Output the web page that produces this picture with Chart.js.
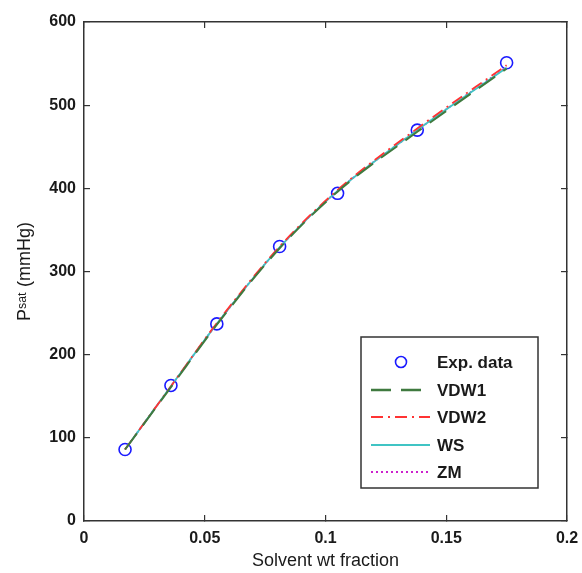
<!DOCTYPE html>
<html>
<head>
<meta charset="utf-8">
<script src="https://cdn.jsdelivr.net/npm/chart.js@4"></script>
<style>
html,body{margin:0;padding:0;background:#fff;}
#wrap{width:582px;height:573px;}
</style>
</head>
<body>
<div id="wrap"><canvas id="c" width="582" height="573"></canvas></div>
<script>
// ---- data ----
const solventFraction = [0.017, 0.036, 0.055, 0.081, 0.105, 0.138, 0.175];
const expData = [86, 163, 237, 330, 394, 470, 551];
const vdw1 = [86, 161, 236, 328, 396, 468, 544];
const vdw2 = [86, 162, 238, 330, 398, 472, 548];
const ws   = [86, 162, 237, 329, 397, 470, 545];
const zm   = [86, 162, 237, 329, 397, 470, 546];
const xTicks = [0, 0.05, 0.1, 0.15, 0.2];
const yTicks = [0, 100, 200, 300, 400, 500, 600];
const seriesNames = ['Exp. data', 'VDW1', 'VDW2', 'WS', 'ZM'];

const pts = arr => solventFraction.map((x, i) => ({x: x, y: arr[i]}));

const FONT = "'Liberation Sans', Arial, sans-serif";
const AXC = '#333';
const TXT = '#1a1a1a';

const lineDs = (label, data, color, dash, width) => ({
  type: 'line', label: label, data: pts(data),
  borderColor: color, borderDash: dash, borderWidth: width,
  pointRadius: 0, fill: false, cubicInterpolationMode: 'monotone'
});

const datasets = [
  lineDs(seriesNames[1], vdw1, '#3f7a3f', [20, 10], 2),
  lineDs(seriesNames[2], vdw2, '#ff3333', [12, 5, 2, 5], 1.8),
  lineDs(seriesNames[3], ws, '#40c4c4', [], 1.8),
  lineDs(seriesNames[4], zm, '#cc22cc', [2, 3], 1.8),
  {
    type: 'scatter', label: seriesNames[0], data: pts(expData),
    borderColor: '#1a1aff', backgroundColor: 'rgba(0,0,0,0)', borderWidth: 1.6,
    pointRadius: 6, pointStyle: 'circle', showLine: false
  }
];

const legendPlugin = {
  id: 'boxLegend',
  afterDraw(chart) {
    const ctx = chart.ctx;
    const bx = 361, by = 337, bw = 177, bh = 151;
    ctx.save();
    ctx.fillStyle = '#fff';
    ctx.fillRect(bx, by, bw, bh);
    ctx.strokeStyle = AXC;
    ctx.lineWidth = 1.5;
    ctx.strokeRect(bx, by, bw, bh);
    const order = [4, 0, 1, 2, 3];
    const rowY = [362, 390, 417, 445, 472];
    ctx.font = 'bold 17px ' + FONT;
    ctx.textBaseline = 'middle';
    order.forEach((di, r) => {
      const ds = chart.data.datasets[di];
      const y = rowY[r];
      ctx.save();
      if (ds.type === 'scatter') {
        ctx.beginPath();
        ctx.arc(401, y, 5.5, 0, Math.PI * 2);
        ctx.strokeStyle = ds.borderColor;
        ctx.lineWidth = ds.borderWidth;
        ctx.stroke();
      } else {
        ctx.beginPath();
        ctx.setLineDash(ds.borderDash);
        ctx.strokeStyle = ds.borderColor;
        ctx.lineWidth = ds.borderWidth + 0.4;
        ctx.moveTo(371, y);
        ctx.lineTo(430, y);
        ctx.stroke();
      }
      ctx.restore();
      ctx.fillStyle = TXT;
      ctx.fillText(ds.label, 437, y + 1);
    });
    ctx.restore();
  }
};

const tickFont = {family: FONT, size: 16, weight: 'bold'};
const titleFont = {family: FONT, size: 18, weight: 'normal'};
const gridCommon = {drawOnChartArea: false, tickLength: -6, color: AXC, lineWidth: 1.2};
const borderCommon = {display: true, color: AXC, width: 1.5};
const noPadX = s => { s.paddingLeft = 0; s.paddingRight = 0; };
const noPadY = s => { s.paddingTop = 0; s.paddingBottom = 0; };

new Chart(document.getElementById('c'), {
  data: {datasets: datasets},
  options: {
    responsive: false,
    animation: false,
    devicePixelRatio: 1,
    layout: {padding: 0},
    plugins: {legend: {display: false}, tooltip: {enabled: false}},
    scales: {
      x: {
        type: 'linear', position: 'bottom', min: 0, max: 0.2,
        afterBuildTicks: s => { s.ticks = xTicks.map(v => ({value: v})); },
        afterFit: s => { s.height = 52; noPadX(s); },
        ticks: {font: tickFont, color: TXT, padding: 14, maxRotation: 0, callback: v => String(v)},
        grid: gridCommon, border: borderCommon,
        title: {display: true, text: 'Solvent wt fraction', font: titleFont, color: TXT, padding: {top: 0, bottom: 1}}
      },
      x2: {
        type: 'linear', position: 'top', min: 0, max: 0.2,
        afterBuildTicks: s => { s.ticks = xTicks.map(v => ({value: v})); },
        afterFit: s => { s.height = 22; noPadX(s); },
        ticks: {display: false},
        grid: gridCommon, border: borderCommon
      },
      y: {
        type: 'linear', position: 'left', min: 0, max: 600,
        afterBuildTicks: s => { s.ticks = yTicks.map(v => ({value: v})); },
        afterFit: s => { s.width = 84; noPadY(s); },
        ticks: {font: tickFont, color: TXT, padding: 14},
        grid: gridCommon, border: borderCommon,
        title: {display: true, text: 'Pˢᵃᵗ (mmHg)', font: titleFont, color: TXT, padding: {top: 14, bottom: 0}}
      },
      y2: {
        type: 'linear', position: 'right', min: 0, max: 600,
        afterBuildTicks: s => { s.ticks = yTicks.map(v => ({value: v})); },
        afterFit: s => { s.width = 15; noPadY(s); },
        ticks: {display: false},
        grid: gridCommon, border: borderCommon
      }
    }
  },
  plugins: [legendPlugin]
});
</script>
</body>
</html>
